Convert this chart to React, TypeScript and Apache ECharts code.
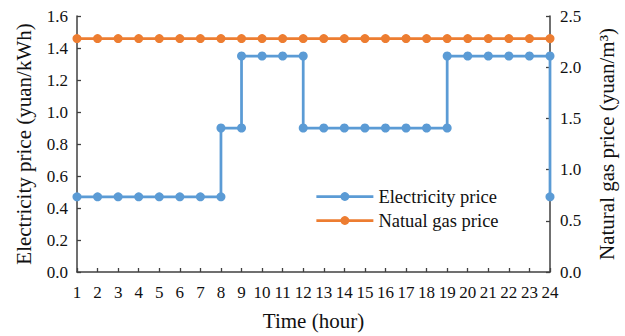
import React, { useEffect, useRef } from "react";
import * as echarts from "echarts";

const elecHours = [1, 2, 3, 4, 5, 6, 7, 8, 8, 9, 9, 10, 11, 12, 12, 13, 14, 15, 16, 17, 18, 19, 19, 20, 21, 22, 23, 24, 24];
const elecPrices = [0.47, 0.47, 0.47, 0.47, 0.47, 0.47, 0.47, 0.47, 0.9, 0.9, 1.35, 1.35, 1.35, 1.35, 0.9, 0.9, 0.9, 0.9, 0.9, 0.9, 0.9, 0.9, 1.35, 1.35, 1.35, 1.35, 1.35, 1.35, 0.47];
const gasHours = [1, 2, 3, 4, 5, 6, 7, 8, 9, 10, 11, 12, 13, 14, 15, 16, 17, 18, 19, 20, 21, 22, 23, 24];
const gasPrices = [2.28, 2.28, 2.28, 2.28, 2.28, 2.28, 2.28, 2.28, 2.28, 2.28, 2.28, 2.28, 2.28, 2.28, 2.28, 2.28, 2.28, 2.28, 2.28, 2.28, 2.28, 2.28, 2.28, 2.28];
const seriesNames = ["Electricity price", "Natual gas price"];

const FONT = "Liberation Serif";
const AXIS_COLOR = "#404040";
const TEXT_COLOR = "#111";

export default function App() {
  const ref = useRef<HTMLDivElement>(null);
  useEffect(() => {
    if (!ref.current) return;
    const chart = echarts.init(ref.current, null, { renderer: "svg" });
    const axisCommon = {
      axisLine: { show: true, lineStyle: { color: AXIS_COLOR, width: 1.5 } },
      axisTick: { show: true, inside: true, length: 4, lineStyle: { color: AXIS_COLOR, width: 1.3 } },
      axisLabel: { color: TEXT_COLOR, fontFamily: FONT, fontSize: 17 },
      splitLine: { show: false },
      nameTextStyle: { color: TEXT_COLOR, fontFamily: FONT, fontSize: 21 },
      nameLocation: "middle" as const,
    };
    chart.setOption({
      animation: false,
      textStyle: { fontFamily: FONT },
      grid: { left: 77, right: 67, top: 16, bottom: 57.5, containLabel: false },
      legend: {
        orient: "vertical",
        left: 310,
        top: 182,
        itemWidth: 57,
        itemHeight: 11,
        itemGap: 5,
        lineStyle: { width: 2.75 },
        textStyle: { fontFamily: FONT, fontSize: 18.5, color: TEXT_COLOR },
        data: seriesNames,
      },
      xAxis: {
        type: "value",
        min: 1,
        max: 24,
        interval: 1,
        name: "Time (hour)",
        nameGap: 38,
        ...axisCommon,
        axisLabel: { ...axisCommon.axisLabel, margin: 12 },
      },
      yAxis: [
        {
          type: "value",
          min: 0,
          max: 1.6,
          interval: 0.2,
          name: "Electricity price (yuan/kWh)",
          nameGap: 43,
          ...axisCommon,
          axisLabel: { ...axisCommon.axisLabel, formatter: (v: number) => v.toFixed(1), margin: 9 },
        },
        {
          type: "value",
          min: 0,
          max: 2.5,
          interval: 0.5,
          name: "Natural gas price (yuan/m³)",
          nameGap: 46,
          position: "right",
          ...axisCommon,
          axisLabel: { ...axisCommon.axisLabel, formatter: (v: number) => v.toFixed(1), margin: 10 },
        },
      ],
      series: [
        {
          name: seriesNames[0],
          type: "line",
          yAxisIndex: 0,
          data: elecHours.map((h, i) => [h, elecPrices[i]]),
          symbol: "circle",
          symbolSize: 9,
          lineStyle: { color: "#5B9BD5", width: 2.75 },
          itemStyle: { color: "#5B9BD5" },
          z: 3,
        },
        {
          name: seriesNames[1],
          type: "line",
          yAxisIndex: 1,
          data: gasHours.map((h, i) => [h, gasPrices[i]]),
          symbol: "circle",
          symbolSize: 9,
          lineStyle: { color: "#ED7D31", width: 2.75 },
          itemStyle: { color: "#ED7D31" },
          z: 2,
        },
      ],
    });
    return () => chart.dispose();
  }, []);
  return <div ref={ref} style={{ width: 625, height: 336, position: "absolute", left: 0, top: 0 }} />;
}
